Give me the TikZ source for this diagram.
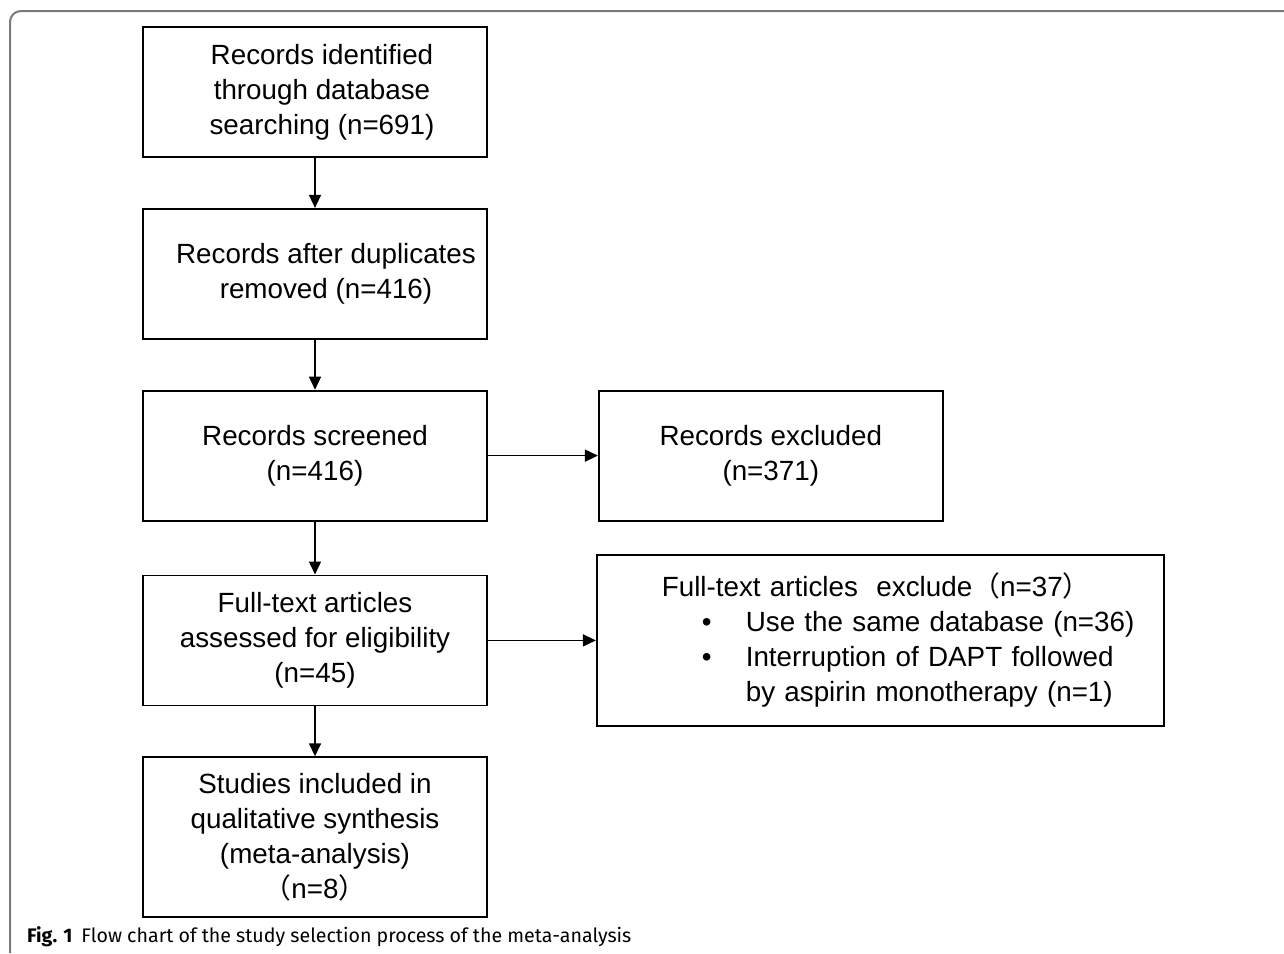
\documentclass[tikz,border=0pt]{standalone}
\usepackage{fontspec}
\setmainfont{Liberation Sans}
\newfontfamily\cjk{Noto Sans CJK SC}
\newfontfamily\capfont{Fira Sans}
\usetikzlibrary{arrows.meta, positioning}
\definecolor{FrameGray}{HTML}{7A7A7A}

\begin{document}
\begin{tikzpicture}[
    x=1pt, y=1pt,
    node distance=50pt,
    stage/.style={rectangle, draw, line width=1.8pt, minimum width=344pt,
                  minimum height=130pt, align=center, inner sep=0pt,
                  font=\fontsize{27.8}{35}\selectfont},
    flow/.style={-{Triangle[length=13pt, width=12pt]}, line width=1.5pt}
]
    \useasboundingbox (0,0) rectangle (1284,-953);
    \draw[FrameGray, line width=2pt, rounded corners=11pt] (10,-953) -- (10,-11) -- (1284,-11);

    \node[stage] (s1) at (315,-92)
        {\hspace*{14pt}Records identified\\\hspace*{14pt}through database\\\hspace*{14pt}searching (n=691)};
    \node[stage, below=50pt of s1] (s2)
        {\hspace*{22pt}Records after duplicates\\\hspace*{22pt}removed (n=416)};
    \node[stage, below=50pt of s2] (s3) {Records screened\\(n=416)};
    \node[stage, below=53pt of s3] (s4) {Full-text articles\\assessed for eligibility\\(n=45)};
    \node[stage, below=50pt of s4, minimum height=160pt] (s5)
        {Studies included in\\qualitative synthesis\\(meta-analysis)\\{\cjk （}n=8{\cjk ）}};
    \node[stage, right=110pt of s3] (x1) {Records excluded\\(n=371)};
    \node[stage, right=108pt of s4, minimum width=567pt, minimum height=171pt,
          text width=567pt, align=left] (x2)
        {\hspace*{65pt}Full-text articles\ \ exclude{\cjk （}n=37{\cjk ）}\\
         \hspace*{105pt}\makebox[44pt][l]{\textbullet}Use the same database (n=36)\\
         \hspace*{105pt}\makebox[44pt][l]{\textbullet}Interruption of DAPT followed\\
         \hspace*{149pt}by aspirin monotherapy (n=1)};

    \draw[flow] (s1) -- (s2);
    \draw[flow] (s2) -- (s3);
    \draw[flow] (s3) -- (s4);
    \draw[flow] (s4) -- (s5);
    \draw[flow] (s3) -- (x1);
    \draw[flow] (s4) -- (x2);

    \node[anchor=base west, inner sep=0pt, font=\capfont\fontsize{19.6}{24}\selectfont] (cap) at (27,-942)
        {\textbf{Fig. 1}\hspace{9pt}Flow chart of the study selection process of the meta-analysis};
\end{tikzpicture}
\end{document}
